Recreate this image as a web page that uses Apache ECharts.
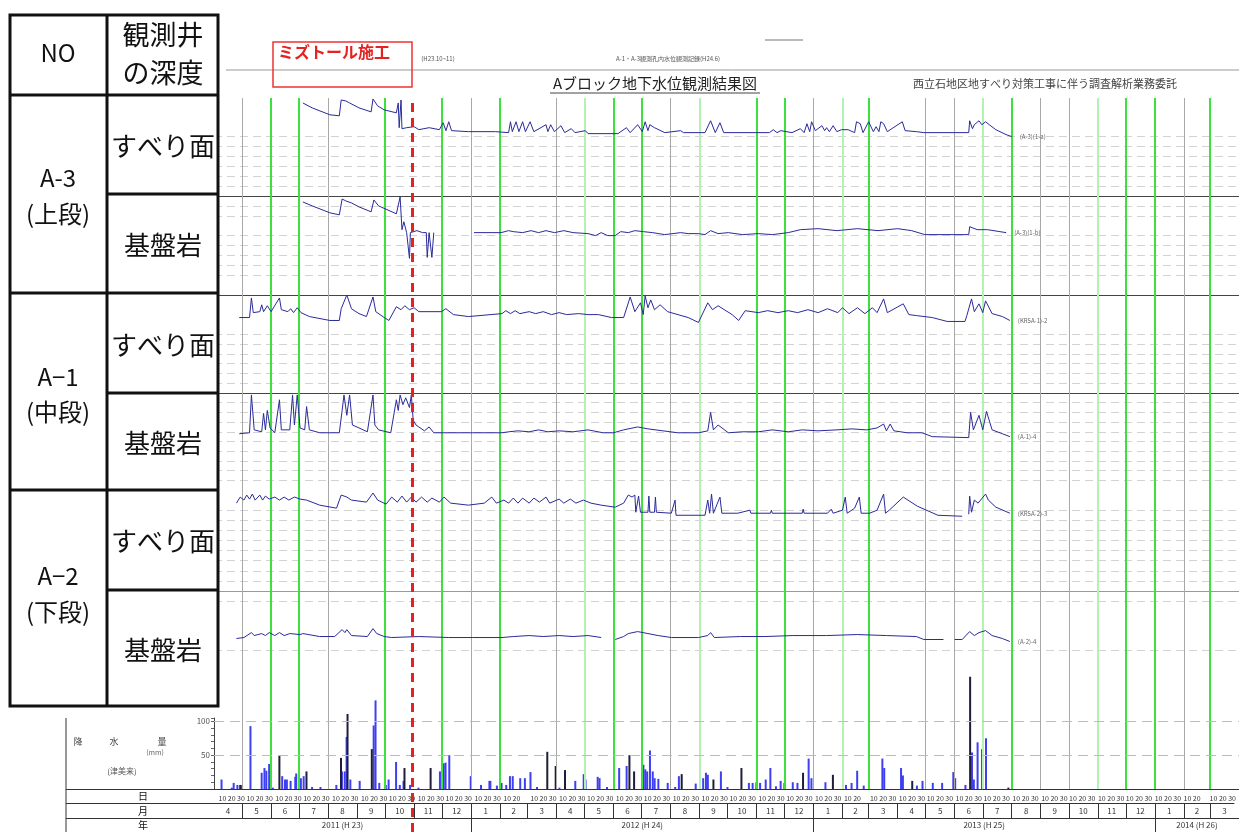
<!DOCTYPE html>
<html><head><meta charset="utf-8">
<script src="https://cdn.jsdelivr.net/npm/echarts@6/dist/echarts.min.js"></script>
<style>html,body{margin:0;padding:0;background:#fff}#c{width:1239px;height:832px}</style>
</head><body><div id="c"></div>
<script>
// ---------- data ----------
const a3Slip = [['2011-07-05',9.4],['2011-07-15',8.9],['2011-08-03',8.2],['2011-08-13',8.1],['2011-08-15',9.7],['2011-08-20',9.6],['2011-08-24',9.4],['2011-09-03',8.9],['2011-09-16',8.5],['2011-09-18',9.8],['2011-09-23',9.1],['2011-09-30',8.7],['2011-10-13',8.4],['2011-10-15',9.4],['2011-10-16',6.9],['2011-10-18',9.7],['2011-10-19',6.8],['2011-10-24',6.9],['2011-11-01',7.0],['2011-11-06',6.7],['2011-11-17',6.9],['2011-11-28',6.7],['2011-12-02',7.4],['2011-12-05',6.6],['2011-12-08',7.5],['2011-12-11',6.6],['2011-12-29',6.5],['2012-01-27',6.5],['2012-02-10',6.4],['2012-02-12',7.5],['2012-02-14',6.5],['2012-02-18',7.5],['2012-02-21',6.5],['2012-02-25',7.5],['2012-02-28',6.5],['2012-03-04',7.5],['2012-03-08',6.5],['2012-03-21',7.2],['2012-03-23',6.5],['2012-03-26',7.2],['2012-03-30',6.5],['2012-04-06',7.1],['2012-04-10',6.4],['2012-04-17',6.8],['2012-04-21',6.4],['2012-05-02',6.6],['2012-05-05',6.3],['2012-06-06',6.3],['2012-06-15',6.9],['2012-06-19',6.4],['2012-06-27',7.2],['2012-07-02',6.5],['2012-07-05',7.5],['2012-07-08',6.6],['2012-07-10',7.2],['2012-07-15',6.9],['2012-07-26',6.4],['2012-08-12',6.6],['2012-08-15',6.4],['2012-09-07',6.4],['2012-09-13',7.6],['2012-09-18',6.4],['2012-09-23',7.4],['2012-09-27',6.4],['2012-11-15',6.4],['2012-11-19',6.7],['2012-11-23',6.4],['2012-11-27',6.6],['2012-12-09',6.4],['2012-12-18',6.8],['2012-12-22',6.4],['2012-12-25',7.3],['2012-12-28',6.5],['2012-12-30',7.5],['2013-01-03',6.6],['2013-01-10',7.1],['2013-01-13',6.6],['2013-01-15',6.9],['2013-01-18',6.5],['2013-01-22',7.1],['2013-01-26',6.5],['2013-01-31',6.7],['2013-02-07',6.7],['2013-02-14',6.4],['2013-02-16',7.5],['2013-02-20',7.3],['2013-02-23',6.4],['2013-03-01',7.5],['2013-03-06',6.5],['2013-03-09',7.0],['2013-03-12',6.5],['2013-03-14',7.5],['2013-03-17',7.3],['2013-03-21',6.5],['2013-03-23',6.7],['2013-04-06',7.5],['2013-04-09',6.6],['2013-04-21',6.5],['2013-04-29',6.4],['2013-06-16',6.4],['2013-06-17',7.6],['2013-06-20',6.8],['2013-06-22',7.2],['2013-06-27',7.6],['2013-06-30',7.2],['2013-07-04',7.5],['2013-07-08',7.2],['2013-07-15',6.7],['2013-07-26',6.2],['2013-08-01',6.0]];

const a3Bed = [['2011-07-05',9.4],['2011-07-15',9.0],['2011-08-03',8.3],['2011-08-13',8.1],['2011-08-16',9.7],['2011-08-20',9.5],['2011-08-26',9.3],['2011-09-03',8.9],['2011-09-16',8.4],['2011-09-19',9.6],['2011-09-24',9.0],['2011-10-13',8.2],['2011-10-17',9.9],['2011-10-19',6.6],['2011-10-21',7.4],['2011-10-24',6.3],['2011-10-27',3.7],['2011-10-28',6.3],['2011-11-04',6.5],['2011-11-10',6.3],['2011-11-14',6.3],['2011-11-15',3.8],['2011-11-17',6.3],['2011-11-20',3.8],['2011-11-22',6.3],['2011-11-25',null],['2012-01-04',6.3],['2012-02-02',6.3],['2012-02-10',6.5],['2012-02-15',6.4],['2012-02-25',6.3],['2012-03-05',6.5],['2012-03-13',6.3],['2012-03-21',6.5],['2012-03-30',6.3],['2012-04-09',6.5],['2012-04-19',6.3],['2012-05-05',6.2],['2012-05-13',6.0],['2012-05-19',6.3],['2012-05-26',6.0],['2012-06-03',6.0],['2012-06-09',6.4],['2012-06-17',6.3],['2012-06-24',6.5],['2012-07-03',6.4],['2012-07-13',6.3],['2012-07-26',6.1],['2012-08-12',6.3],['2012-08-20',6.2],['2012-08-31',6.2],['2012-09-07',6.1],['2012-09-13',6.5],['2012-09-21',6.2],['2012-10-02',6.3],['2012-10-17',6.1],['2012-11-03',6.2],['2012-11-18',6.1],['2012-12-05',6.3],['2012-12-18',6.6],['2013-01-06',6.7],['2013-01-26',6.5],['2013-02-17',6.7],['2013-03-11',6.5],['2013-04-01',6.7],['2013-04-16',6.5],['2013-04-30',6.1],['2013-06-16',6.1],['2013-06-17',6.9],['2013-06-25',6.6],['2013-07-06',6.6],['2013-07-26',6.3]];

const a1Slip = [['2011-04-28',7.7],['2011-05-09',7.7],['2011-05-11',9.7],['2011-05-13',8.2],['2011-05-20',8.3],['2011-05-22',9.0],['2011-05-24',8.3],['2011-05-28',8.9],['2011-06-01',8.3],['2011-06-10',9.7],['2011-06-12',8.5],['2011-06-19',8.3],['2011-06-22',8.6],['2011-06-25',8.2],['2011-06-29',8.7],['2011-07-03',8.2],['2011-07-12',7.8],['2011-08-03',7.4],['2011-08-13',7.4],['2011-08-15',8.6],['2011-08-21',10.0],['2011-08-26',8.6],['2011-09-03',8.1],['2011-09-11',7.8],['2011-09-18',9.8],['2011-09-21',8.3],['2011-09-30',7.7],['2011-10-05',7.4],['2011-10-13',8.8],['2011-10-18',8.5],['2011-10-22',8.9],['2011-10-27',8.5],['2011-11-01',8.7],['2011-11-06',8.3],['2011-11-30',8.3],['2011-12-05',8.6],['2011-12-13',8.0],['2011-12-29',7.8],['2012-02-03',8.1],['2012-02-07',8.4],['2012-02-12',8.1],['2012-02-17',8.4],['2012-02-22',8.1],['2012-03-03',8.3],['2012-03-10',8.1],['2012-03-18',8.3],['2012-03-27',8.0],['2012-04-04',8.2],['2012-04-12',8.0],['2012-04-25',8.1],['2012-05-05',8.0],['2012-05-16',8.0],['2012-05-30',7.7],['2012-06-12',7.7],['2012-06-19',9.8],['2012-06-24',8.3],['2012-06-30',9.2],['2012-07-03',8.0],['2012-07-05',9.9],['2012-07-08',8.7],['2012-07-11',9.5],['2012-07-15',8.5],['2012-07-21',9.0],['2012-07-29',8.3],['2012-08-20',7.7],['2012-08-31',7.2],['2012-09-10',9.2],['2012-09-15',8.5],['2012-09-21',8.9],['2012-10-06',8.0],['2012-10-13',7.4],['2012-10-20',8.4],['2012-11-03',8.2],['2012-11-13',8.4],['2012-11-24',8.2],['2012-12-05',8.4],['2012-12-15',8.2],['2012-12-26',8.5],['2013-01-06',8.2],['2013-01-16',8.6],['2013-01-27',8.2],['2013-02-01',8.7],['2013-02-08',8.1],['2013-02-17',8.7],['2013-02-25',8.1],['2013-03-05',8.7],['2013-03-10',8.2],['2013-03-17',9.6],['2013-03-21',8.2],['2013-04-07',9.1],['2013-04-13',8.0],['2013-04-21',7.9],['2013-05-08',7.7],['2013-05-24',7.3],['2013-06-12',7.3],['2013-06-14',7.9],['2013-06-19',9.6],['2013-06-22',8.3],['2013-06-27',9.1],['2013-07-01',8.2],['2013-07-04',9.4],['2013-07-11',8.1],['2013-07-22',7.8],['2013-07-30',7.4]];

const a1Bed = [['2011-04-28',5.8],['2011-05-09',5.9],['2011-05-11',9.8],['2011-05-14',6.2],['2011-05-22',6.0],['2011-05-24',7.9],['2011-05-26',6.2],['2011-05-28',8.2],['2011-05-31',6.4],['2011-06-05',5.9],['2011-06-10',9.3],['2011-06-12',6.2],['2011-06-21',6.2],['2011-06-24',9.8],['2011-06-26',6.7],['2011-06-29',9.8],['2011-07-02',6.4],['2011-07-07',6.2],['2011-07-09',8.6],['2011-07-12',6.2],['2011-07-23',5.9],['2011-08-13',5.9],['2011-08-16',8.2],['2011-08-18',9.8],['2011-08-21',7.7],['2011-08-24',9.8],['2011-08-27',6.7],['2011-09-03',6.4],['2011-09-12',6.0],['2011-09-18',9.8],['2011-09-20',6.7],['2011-09-24',6.2],['2011-10-07',5.9],['2011-10-13',9.3],['2011-10-15',8.2],['2011-10-17',9.8],['2011-10-20',8.8],['2011-10-23',9.5],['2011-10-27',8.5],['2011-10-29',9.8],['2011-10-31',7.2],['2011-11-03',6.7],['2011-11-06',6.5],['2011-11-12',6.1],['2011-11-17',6.5],['2011-11-22',5.9],['2012-01-02',5.9],['2012-02-03',5.9],['2012-02-10',6.0],['2012-02-20',6.1],['2012-03-03',6.0],['2012-03-13',6.2],['2012-03-23',6.0],['2012-04-04',6.1],['2012-04-19',6.0],['2012-05-05',6.2],['2012-05-21',5.9],['2012-06-01',5.9],['2012-06-12',6.2],['2012-06-27',6.5],['2012-07-08',6.3],['2012-07-24',6.1],['2012-08-09',5.9],['2012-08-31',5.9],['2012-09-10',6.1],['2012-09-13',8.0],['2012-09-16',6.2],['2012-09-21',6.7],['2012-10-02',5.9],['2012-10-17',6.0],['2012-11-03',6.0],['2012-11-18',6.2],['2012-12-05',6.0],['2012-12-20',6.2],['2013-01-06',6.1],['2013-01-26',6.2],['2013-02-11',6.3],['2013-02-27',6.2],['2013-03-10',6.4],['2013-03-17',6.8],['2013-03-20',6.1],['2013-03-24',6.8],['2013-03-28',6.1],['2013-04-11',5.9],['2013-04-27',5.9],['2013-05-08',5.5],['2013-06-16',5.4],['2013-06-18',8.0],['2013-06-21',6.2],['2013-06-27',7.7],['2013-07-01',6.2],['2013-07-05',8.1],['2013-07-11',6.2],['2013-07-22',5.8],['2013-07-30',5.5]];

const a2Slip = [['2011-04-25',8.7],['2011-04-29',9.3],['2011-05-03',9.0],['2011-05-06',9.5],['2011-05-09',9.1],['2011-05-12',9.6],['2011-05-15',9.0],['2011-05-20',9.5],['2011-05-23',9.0],['2011-05-26',9.4],['2011-05-30',9.1],['2011-06-05',9.3],['2011-06-10',9.0],['2011-06-15',9.3],['2011-06-20',9.0],['2011-06-26',9.3],['2011-07-02',9.1],['2011-07-09',9.0],['2011-07-23',8.5],['2011-08-10',8.2],['2011-08-15',9.5],['2011-08-21',9.3],['2011-08-26',9.0],['2011-09-11',8.8],['2011-09-18',9.7],['2011-09-23',9.0],['2011-10-02',8.6],['2011-10-08',9.3],['2011-10-14',8.8],['2011-10-19',9.4],['2011-10-24',8.8],['2011-10-29',9.3],['2011-11-03',8.8],['2011-11-09',9.3],['2011-11-15',8.8],['2011-11-20',9.2],['2011-11-28',8.8],['2011-12-03',9.3],['2011-12-10',8.7],['2011-12-29',8.5],['2012-01-15',8.7],['2012-01-23',9.3],['2012-01-28',8.7],['2012-02-05',9.0],['2012-02-10',8.7],['2012-02-15',9.2],['2012-02-20',8.7],['2012-02-25',9.2],['2012-03-03',8.7],['2012-03-08',9.2],['2012-03-14',8.8],['2012-03-21',9.3],['2012-03-25',8.7],['2012-04-04',9.1],['2012-04-09',8.7],['2012-04-16',9.1],['2012-04-22',8.7],['2012-04-30',9.0],['2012-05-08',8.7],['2012-05-19',8.5],['2012-06-03',8.3],['2012-06-12',8.7],['2012-06-17',9.5],['2012-06-21',9.3],['2012-06-24',9.5],['2012-06-25',7.8],['2012-06-28',9.4],['2012-06-30',7.8],['2012-07-08',7.8],['2012-07-09',9.4],['2012-07-10',7.8],['2012-07-15',7.8],['2012-07-16',9.3],['2012-07-17',7.8],['2012-08-02',7.7],['2012-08-06',9.0],['2012-08-07',7.5],['2012-09-07',7.5],['2012-09-10',9.0],['2012-09-12',7.7],['2012-09-14',9.6],['2012-09-16',7.7],['2012-09-23',9.3],['2012-09-25',7.7],['2012-10-12',7.7],['2012-10-25',8.0],['2012-10-26',7.7],['2012-11-16',7.7],['2012-11-17',8.0],['2012-11-18',7.7],['2012-12-20',7.7],['2012-12-21',8.1],['2012-12-22',7.7],['2013-01-16',7.7],['2013-01-20',8.1],['2013-01-22',7.7],['2013-02-01',8.0],['2013-02-04',9.3],['2013-02-06',7.7],['2013-02-14',8.2],['2013-02-19',9.3],['2013-02-21',7.7],['2013-03-02',7.7],['2013-03-10',8.0],['2013-03-17',9.6],['2013-03-19',7.7],['2013-03-23',8.0],['2013-04-07',9.3],['2013-04-22',8.4],['2013-05-14',7.5],['2013-06-09',7.4],['2013-06-12',null],['2013-06-16',7.6],['2013-06-17',9.4],['2013-06-19',7.8],['2013-06-22',9.0],['2013-06-26',8.7],['2013-07-04',9.6],['2013-07-07',9.0],['2013-07-15',8.3],['2013-07-30',7.7]];

const a2Bed = [['2011-04-25',5.2],['2011-05-03',5.3],['2011-05-11',5.8],['2011-05-14',5.5],['2011-05-22',5.7],['2011-05-26',5.5],['2011-05-30',5.8],['2011-06-05',5.5],['2011-06-10',5.8],['2011-06-15',5.5],['2011-06-21',5.7],['2011-07-02',5.6],['2011-07-05',5.7],['2011-07-23',5.4],['2011-08-08',5.4],['2011-08-16',6.1],['2011-08-19',5.8],['2011-08-21',6.1],['2011-08-26',5.5],['2011-09-12',5.4],['2011-09-18',6.2],['2011-09-22',5.7],['2011-09-30',5.4],['2011-10-08',5.3],['2011-11-06',5.4],['2011-12-08',5.3],['2012-01-02',5.3],['2012-02-03',5.3],['2012-02-15',5.4],['2012-03-03',5.5],['2012-03-18',5.4],['2012-04-04',5.5],['2012-04-19',5.4],['2012-05-05',5.5],['2012-05-19',5.3],['2012-05-27',null],['2012-06-03',5.1],['2012-06-12',5.4],['2012-06-17',5.7],['2012-06-27',5.9],['2012-07-08',5.7],['2012-07-19',5.5],['2012-08-02',5.3],['2012-08-31',5.3],['2012-09-10',5.5],['2012-09-13',5.8],['2012-09-17',5.3],['2012-10-15',5.4],['2012-11-10',5.4],['2012-12-10',5.5],['2013-01-15',5.5],['2013-02-17',5.6],['2013-03-20',5.5],['2013-04-21',5.4],['2013-04-29',5.1],['2013-05-20',5.1],['2013-05-26',null],['2013-06-01',5.1],['2013-06-09',5.1],['2013-06-17',5.9],['2013-06-22',5.5],['2013-06-27',5.8],['2013-07-04',6.0],['2013-07-11',5.5],['2013-07-22',5.2],['2013-07-30',4.9]];

const rainBlue = [['2011-04-08',14],['2011-04-19',2],['2011-04-21',9],['2011-04-25',6],['2011-04-30',6],['2011-05-09',93],['2011-05-21',24],['2011-05-24',31],['2011-05-26',27],['2011-05-29',37],['2011-06-02',2],['2011-06-12',19],['2011-06-15',14],['2011-06-17',14],['2011-06-21',12],['2011-06-26',18],['2011-06-27',23],['2011-06-30',46],['2011-07-02',16],['2011-07-05',19],['2011-07-14',3],['2011-07-23',3],['2011-08-09',6],['2011-08-15',26],['2011-08-18',26],['2011-08-20',77],['2011-08-24',14],['2011-09-03',12],['2011-09-18',94],['2011-09-20',131],['2011-09-24',9],['2011-10-01',6],['2011-10-04',14],['2011-10-12',40],['2011-10-16',6],['2011-10-20',12],['2011-10-27',6],['2011-11-05',2],['2011-11-28',26],['2011-12-02',38],['2011-12-04',39],['2011-12-08',50],['2011-12-31',19],['2012-01-11',6],['2012-01-20',12],['2012-01-21',12],['2012-01-28',5],['2012-02-02',9],['2012-02-07',6],['2012-02-11',19],['2012-02-14',19],['2012-02-22',16],['2012-02-27',16],['2012-03-04',25],['2012-03-11',3],['2012-04-04',2],['2012-04-21',12],['2012-04-30',22],['2012-05-02',14],['2012-05-15',18],['2012-05-17',16],['2012-05-25',3],['2012-06-07',31],['2012-06-15',34],['2012-07-03',36],['2012-07-05',29],['2012-07-07',26],['2012-07-10',57],['2012-07-13',26],['2012-07-15',16],['2012-07-19',15],['2012-07-29',9],['2012-08-06',3],['2012-08-10',19],['2012-08-28',8],['2012-09-05',16],['2012-09-08',24],['2012-09-10',21],['2012-09-24',26],['2012-10-01',3],['2012-10-24',9],['2012-10-28',9],['2012-11-01',10],['2012-11-05',9],['2012-11-11',14],['2012-11-16',31],['2012-11-22',4],['2012-11-27',12],['2012-12-01',9],['2012-12-10',10],['2012-12-15',9],['2012-12-27',45],['2012-12-30',16],['2013-01-14',10],['2013-02-05',6],['2013-02-11',9],['2013-02-17',27],['2013-02-24',5],['2013-03-16',45],['2013-03-18',31],['2013-04-05',31],['2013-04-07',20],['2013-04-22',5],['2013-04-28',12],['2013-05-09',9],['2013-05-19',9],['2013-05-31',25],['2013-06-02',16],['2013-06-13',6],['2013-06-20',54],['2013-06-22',14],['2013-06-26',69],['2013-07-05',75]];

const rainDark = [['2011-04-28',6],['2011-06-09',50],['2011-07-08',26],['2011-08-14',46],['2011-08-21',111],['2011-09-16',59],['2011-10-21',31],['2011-11-18',31],['2012-03-22',55],['2012-03-31',34],['2012-04-10',28],['2012-06-18',50],['2012-06-23',26],['2012-08-13',22],['2012-09-16',14],['2012-10-16',31],['2012-12-21',24],['2013-01-22',21],['2013-04-17',12],['2013-06-18',166],['2013-07-01',59],['2013-07-29',2]];

// month boundary guide lines (g = green, lg = light green, k = grey)
const monthLines = [['2011-05-01','k'],['2011-06-01','g'],['2011-07-01','g'],['2011-08-01','k'],['2011-10-01','g'],['2011-12-01','g'],['2012-01-01','k'],['2012-02-01','g'],['2012-04-01','k'],['2012-05-01','lg'],['2012-06-01','g'],['2012-07-01','g'],['2012-08-01','k'],['2012-09-01','lg'],['2012-11-01','g'],['2012-12-01','g'],['2013-01-01','k'],['2013-02-01','lg'],['2013-03-01','g'],['2013-05-01','k'],['2013-06-01','k'],['2013-07-01','lg'],['2013-08-01','g'],['2013-09-01','k'],['2013-10-01','k'],['2013-11-01','lg'],['2013-12-01','g'],['2014-01-01','g'],['2014-02-01','k'],['2014-03-01','g']];
const workDate = '2011-10-30';

// tick labels
const monthTicks = ['2011-04','2011-05','2011-06','2011-07','2011-08','2011-09','2011-10','2011-11','2011-12','2012-01','2012-02','2012-03','2012-04','2012-05','2012-06','2012-07','2012-08','2012-09','2012-10','2012-11','2012-12','2013-01','2013-02','2013-03','2013-04','2013-05','2013-06','2013-07','2013-08','2013-09','2013-10','2013-11','2013-12','2014-01','2014-02','2014-03'];
const dayTicks = [10, 20, 30];
const yearTicks = [[2011,'2011 (H 23)'],[2012,'2012 (H 24)'],[2013,'2013 (H 25)'],[2014,'2014 (H 26)']];
const rainTickLabels = [50, 100];

// ---------- build ----------
const X0 = '2011-04-01', X1 = '2014-04-01';
const L = 214, W = 1029;
const FONT = "'Noto Sans CJK JP', 'Noto Sans', sans-serif";
const ts = (y, m, d) => +new Date(y, m - 1, d);
const t0 = ts(2011,4,1), t1 = ts(2014,4,1);

const dayVals = [], monthStarts = [], monthMids = [];
monthTicks.forEach(s => {
  const y = +s.slice(0,4), m = +s.slice(5,7);
  const dim = new Date(y, m, 0).getDate();
  dayTicks.forEach(d => { if (d <= dim) dayVals.push(ts(y,m,d)); });
  if (ts(y,m,1) > t0) monthStarts.push(ts(y,m,1));
  monthMids.push((ts(y,m,1) + ts(y,m,dim)) / 2 + 43200000);
});
const yearStarts = [], yearMids = [], yearName = {};
yearTicks.forEach(([y, txt]) => {
  const a = Math.max(ts(y,1,1), t0), b = Math.min(ts(y+1,1,1), t1);
  if (ts(y,1,1) > t0) yearStarts.push(ts(y,1,1));
  yearMids.push((a + b) / 2);
  yearName[y] = txt;
});

const grids = [], xAxes = [], yAxes = [], series = [];
function addGrid(top, height) { grids.push({left: L, width: W, top: top, height: height}); return grids.length - 1; }
function hiddenX(gi, extra) { return Object.assign({type:'time', gridIndex: gi, min: X0, max: X1, axisLabel:{show:false}, axisTick:{show:false}, splitLine:{show:false}, axisLine:{show:false}}, extra || {}); }
function rowX(gi, extra) { return Object.assign({type:'value', gridIndex: gi, min: t0, max: t1, axisLabel:{show:false}, axisTick:{show:false}, splitLine:{show:false}, axisLine:{show:false}}, extra || {}); }

// background guide lines
let g = addGrid(98, 691);
xAxes.push(hiddenX(g)); yAxes.push({type:'value', gridIndex: g, min: 0, max: 1, show: false});
series.push({type:'line', xAxisIndex: g, yAxisIndex: g, data: [[X0, null]], silent: true, z: 1,
  markLine: {silent: true, symbol: ['none','none'], label: {show: false}, animation: false,
    data: monthLines.map(([d, c]) => ({xAxis: d, lineStyle: {type: 'solid',
      color: c === 'g' ? '#3ee03e' : c === 'lg' ? '#b4f2b4' : '#a8a8a8', width: c === 'k' ? 1 : 2}}))}});

// water-level panels (grid: dashed guide levels of the record sheet)
const panels = [
  {data: a3Slip, top: 97, h: 99, sep: '#444', tag: '(A-3)(1-a)', grid: [1,2,3,4,5,6]},
  {data: a3Bed, top: 196, h: 99, sep: '#444', tag: '(A-3)(1-b)', grid: [2,3,4,5,6,8,9]},
  {data: a1Slip, top: 295, h: 98, sep: '#444', tag: '(KR5A-1)-2', grid: [1,2,3,4,5,6]},
  {data: a1Bed, top: 393, h: 97, sep: null, tag: '(A-1)-4', grid: [1,2,3,4,5,6,7,8,9]},
  {data: a2Slip, top: 490, h: 101, sep: '#9a9a9a', tag: '(KR5A-2)-3', grid: [1,2,3,4,5,6,7,8]},
  {data: a2Bed, top: 591, h: 99, sep: null, tag: '(A-2)-4', grid: [4,9]}
];
panels.forEach(p => {
  const gi = addGrid(p.top, p.h);
  xAxes.push(hiddenX(gi, {axisLine: {show: !!p.sep, lineStyle: {color: p.sep || '#000', width: 1.2}}}));
  yAxes.push({type:'value', gridIndex: gi, min: 0, max: 10, interval: 1,
    axisLine:{show:false}, axisTick:{show:false}, axisLabel:{show:false}, splitLine:{show:false}});
  series.push({type:'line', xAxisIndex: gi, yAxisIndex: gi, data: p.data, showSymbol: false, z: 5,
    lineStyle: {color: '#2a2a9a', width: 1}, connectNulls: false,
    endLabel: {show: true, formatter: p.tag, fontSize: 6, color: '#666', distance: 8, fontFamily: FONT},
    markLine: {silent: true, symbol: ['none','none'], label:{show:false}, animation: false, z: 2,
      lineStyle: {color: '#d2d2d2', type: [8,5], width: 1},
      data: p.grid.map(v => ({yAxis: v}))}});
});

// precipitation
g = addGrid(718, 71);
xAxes.push(hiddenX(g, {axisLine: {show: true, lineStyle: {color: '#333', width: 1}}}));
yAxes.push({type:'value', gridIndex: g, min: 0, max: 105, interval: 10,
  axisLine:{show:true, lineStyle:{color:'#444'}}, axisTick:{show:true, length:3, lineStyle:{color:'#666'}},
  axisLabel:{fontSize: 8, color:'#555', margin: 4, formatter: v => rainTickLabels.includes(v) ? String(v) : ''},
  splitLine:{show:false}});
series.push({type:'bar', xAxisIndex: g, yAxisIndex: g, data: rainBlue, barWidth: 2, barGap: '-100%', clip: false, z: 4,
  itemStyle: {color: '#3f3ff2'},
  markLine: {silent: true, symbol: ['none','none'], label:{show:false}, animation: false,
    lineStyle: {color: '#bcbcbc', type: [10,6], width: 1},
    data: rainTickLabels.map(v => ({yAxis: v}))}});
series.push({type:'bar', xAxisIndex: g, yAxisIndex: g, data: rainDark, barWidth: 2, barGap: '-100%', clip: false, z: 4,
  itemStyle: {color: '#1e1e3a'}});

// day row
g = addGrid(790, 13);
xAxes.push(rowX(g, {axisLine:{show:true, lineStyle:{color:'#333'}},
  axisLabel:{show:true, customValues: dayVals, inside: true, margin: 1, fontSize: 7, color:'#333', fontFamily: FONT,
    formatter: v => String(new Date(v).getDate())}}));
yAxes.push({type:'value', gridIndex: g, show: false});

// month row
g = addGrid(803, 15);
xAxes.push(rowX(g, {axisLine:{show:true, lineStyle:{color:'#333'}},
  axisTick:{show:true, customValues: monthStarts, inside: true, length: 15, lineStyle:{color:'#333'}},
  axisLabel:{show:true, customValues: monthMids, inside: true, margin: 3, fontSize: 8, color:'#333', fontFamily: FONT,
    formatter: v => String(new Date(v).getMonth() + 1)}}));
yAxes.push({type:'value', gridIndex: g, show: false});

// year row
g = addGrid(818, 14);
xAxes.push(rowX(g, {axisLine:{show:false},
  axisTick:{show:true, customValues: yearStarts, inside: true, length: 14, lineStyle:{color:'#333'}},
  axisLabel:{show:true, customValues: yearMids, inside: true, margin: 3, fontSize: 8, color:'#333', fontFamily: FONT,
    formatter: v => yearName[new Date(v).getFullYear()] || ''}}));
yAxes.push({type:'value', gridIndex: g, show: false});

// construction date (red dashed)
g = addGrid(98, 734);
xAxes.push(hiddenX(g)); yAxes.push({type:'value', gridIndex: g, min: 0, max: 1, show: false});
series.push({type:'line', xAxisIndex: g, yAxisIndex: g, data: [[X0, null]], silent: true, z: 20,
  markLine: {silent: true, symbol: ['none','none'], label:{show:false}, animation: false, z: 20,
    lineStyle: {color: '#e52222', width: 3, type: [9,6]}, data: [{xAxis: workDate}]}});

// ---------- static graphics (table, header) ----------
const T = (x, y, text, size, opts) => Object.assign({type:'text', x: x, y: y, z: 101,
  style: Object.assign({text: text, fill: '#111', font: (opts && opts.bold ? 'bold ' : '') + size + 'px ' + FONT,
    textAlign: 'center', textVerticalAlign: 'middle', align: 'center', verticalAlign: 'middle'}, (opts && opts.style) || {})});
const Ln = (x1, y1, x2, y2, c, w) => ({type:'line', z: 100, shape:{x1, y1, x2, y2}, style:{stroke: c, lineWidth: w}});

const graphic = [
  {type:'rect', z: 99, shape:{x: 10, y: 15, width: 208, height: 691}, style:{fill:'#fff', stroke:'#111', lineWidth: 3}},
  Ln(107, 15, 107, 706, '#111', 3),
  Ln(10, 95, 218, 95, '#111', 3), Ln(10, 293, 218, 293, '#111', 3), Ln(10, 490, 218, 490, '#111', 3),
  Ln(107, 194, 218, 194, '#111', 3), Ln(107, 393, 218, 393, '#111', 3), Ln(107, 590, 218, 590, '#111', 3),
  T(58, 53, 'NO', 24), T(163, 35, '観測井', 27), T(163, 73, 'の深度', 27),
  T(58, 178, 'A-3', 24), T(58, 214, '(上段)', 24),
  T(58, 377, 'A−1', 24), T(58, 412, '(中段)', 24),
  T(58, 576, 'A−2', 24), T(58, 612, '(下段)', 24),
  T(163, 146, 'すべり面', 26), T(163, 245, '基盤岩', 26),
  T(163, 345, 'すべり面', 26), T(163, 443, '基盤岩', 26),
  T(163, 541, 'すべり面', 26), T(163, 650, '基盤岩', 26),
  // header
  Ln(765, 40, 803, 40, '#777', 1),
  Ln(226, 70, 1239, 70, '#999', 1),
  {type:'rect', z: 100, shape:{x: 273, y: 42, width: 139, height: 45}, style:{fill:'none', stroke:'#e33', lineWidth: 1.5}},
  T(334, 52, 'ミズトール施工', 16, {bold: true, style: {fill: '#e52222'}}),
  T(438, 59, '(H23.10~11)', 6, {style: {fill: '#555'}}),
  T(668, 59, 'A-1・A-3観測孔内水位観測記録(H24.6)', 6, {style: {fill: '#555'}}),
  T(655, 83, 'Aブロック地下水位観測結果図', 15, {style: {fill: '#222'}}),
  Ln(550, 93, 760, 93, '#444', 1),
  T(1045, 84, '西立石地区地すべり対策工事に伴う調査解析業務委託', 11, {style: {fill: '#444'}}),
  // precipitation / axis table labels
  Ln(66, 718, 66, 832, '#333', 1),
  Ln(66, 789.5, 214, 789.5, '#333', 1), Ln(66, 803.5, 214, 803.5, '#333', 1), Ln(66, 818.5, 214, 818.5, '#333', 1),
  T(78, 742, '降', 9, {style:{fill:'#444'}}), T(114, 742, '水', 9, {style:{fill:'#444'}}), T(162, 742, '量', 9, {style:{fill:'#444'}}),
  T(155, 752, '(mm)', 7, {style:{fill:'#666'}}),
  T(122, 771, '(津美来)', 8, {style:{fill:'#555'}}),
  T(143, 796, '日', 10), T(143, 811, '月', 10), T(143, 825, '年', 10)
];

const chart = echarts.init(document.getElementById('c'), null, {renderer: 'canvas'});
chart.setOption({
  animation: false,
  backgroundColor: '#fff',
  textStyle: {fontFamily: FONT},
  grid: grids, xAxis: xAxes, yAxis: yAxes, series: series, graphic: graphic
});
</script></body></html>
